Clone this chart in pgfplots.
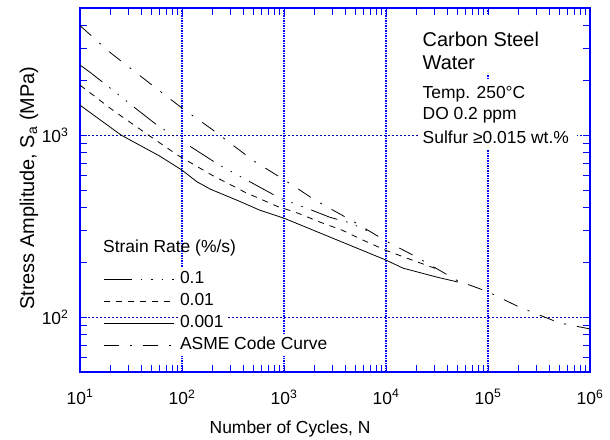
\documentclass[border=0pt]{standalone}
\usepackage{fontspec}
\setmainfont{Liberation Sans}
\usepackage{pgfplots}
\pgfplotsset{compat=1.18}
\newcommand{\fs}[1]{\fontsize{#1}{#1}\selectfont}
\begin{document}
\begin{tikzpicture}
\useasboundingbox (-80bp,-68bp) rectangle (530bp,372bp);
\begin{axis}[
  xmode=log, ymode=log, log basis x=10, log basis y=10,
  scale only axis, width=510bp, height=364bp,
  xmin=10, xmax=1e6, ymin=50, ymax=5000,
  axis line style={blue, line width=1.2bp},
  xticklabel={10\textsuperscript{\pgfmathparse{int(round(\tick))}\pgfmathresult}},
  yticklabel={10\textsuperscript{\pgfmathparse{int(round(\tick))}\pgfmathresult}},
  every tick/.style={draw=blue, line width=0.9bp},
  major tick length=7bp, minor tick length=7bp,
  xmajorgrids, ymajorgrids,
  major x grid style={blue, line width=1.5bp, dash pattern=on 1.5bp off 1bp},
  major y grid style={blue!70!black, line width=0.6bp, dash pattern=on 2bp off 2bp},
  every tick label/.append style={font=\fs{17.5}},
  xticklabel style={yshift=-14bp},
  yticklabel style={xshift=-8bp},
  xlabel={Number of Cycles, N},
  xlabel style={font=\fs{17.5}, at={(axis description cs:0.412,-0.1676)}, anchor=base},
  ylabel={Stress Amplitude, S\textsubscript{a} (MPa)},
  ylabel style={font=\fs{20}, at={(axis description cs:-0.090,0.505)}, anchor=base, rotate=0},
  legend style={at={(axis description cs:0.0451,0.2857)}, anchor=north west, draw=none, fill=none,
    inner sep=0pt, row sep=0bp, column sep=4bp, font=\fs{17.5},
    nodes={fill=white, inner sep=2bp, text height=13bp, text depth=5bp}},
  legend cell align=left,
  legend image code/.code={\draw[#1] (0bp,0bp) -- (70bp,0bp);},
]
\fill[white] (axis description cs:0.6667,0.816) rectangle (axis description cs:0.975,0.981);
\fill[white] (axis description cs:0.6667,0.610) rectangle (axis description cs:0.975,0.802);
\node[anchor=base west, inner sep=0pt, font=\fs{20}] at (axis description cs:0.6716,0.8929) {Carbon Steel};
\node[anchor=base west, inner sep=0pt, font=\fs{20}] at (axis description cs:0.6716,0.8324) {Water};
\node[anchor=base west, inner sep=0pt, font=\fs{17.5}] at (axis description cs:0.6716,0.750) {Temp. 250°C};
\node[anchor=base west, inner sep=0pt, font=\fs{17.5}] at (axis description cs:0.6716,0.6923) {DO 0.2 ppm};
\node[anchor=base west, inner sep=0pt, font=\fs{17.5}] at (axis description cs:0.6716,0.6264) {Sulfur ≥0.015 wt.\%};
\node[anchor=base west, inner sep=0pt, font=\fs{17.5}] at (axis description cs:0.0451,0.327) {Strain Rate (\%/s)};

\addplot[black, line width=0.8bp, dash pattern=on 28bp off 9bp on 1.5bp off 9bp on 1.5bp off 9bp on 1.5bp off 9bp] coordinates {
(10,2430) (12.5,2220) (23,1700) (35,1406) (54,1163) (76,1021) (99,931) (225,693) (434,566) (912,451) (1884,387) (2820,354) (4436,330) (7000,293)};
\addlegendentry{0.1}
\addplot[black, line width=0.8bp, dash pattern=on 6bp off 6bp] coordinates {
(10,1885) (21,1372) (44,1026) (91,776) (197,603) (415,486) (853,407) (1370,373) (2254,333) (3706,301) (5957,265) (10000,233) (16070,211) (31600,184)};
\addlegendentry{0.01}
\addplot[black, line width=0.8bp] coordinates {
(10,1462) (25.4,1000) (60,770) (100,643) (140,555) (190,505) (344,440) (582,387) (1000,350) (10000,206) (14700,186) (31600,166) (50800,156)};
\addlegendentry{0.001}
\addplot[black, line width=0.8bp, dash pattern=on 15bp off 11bp on 2bp off 11bp] coordinates {
(10,4000) (20,2830) (50,1900) (100,1410) (200,1070) (500,725) (1000,570) (2000,441) (5000,331) (10000,262) (20000,214) (50000,159) (100000,138) (200000,114) (500000,93.1) (1000000,86.2)};
\addlegendentry{ASME Code Curve}
\end{axis}
\end{tikzpicture}
\end{document}
